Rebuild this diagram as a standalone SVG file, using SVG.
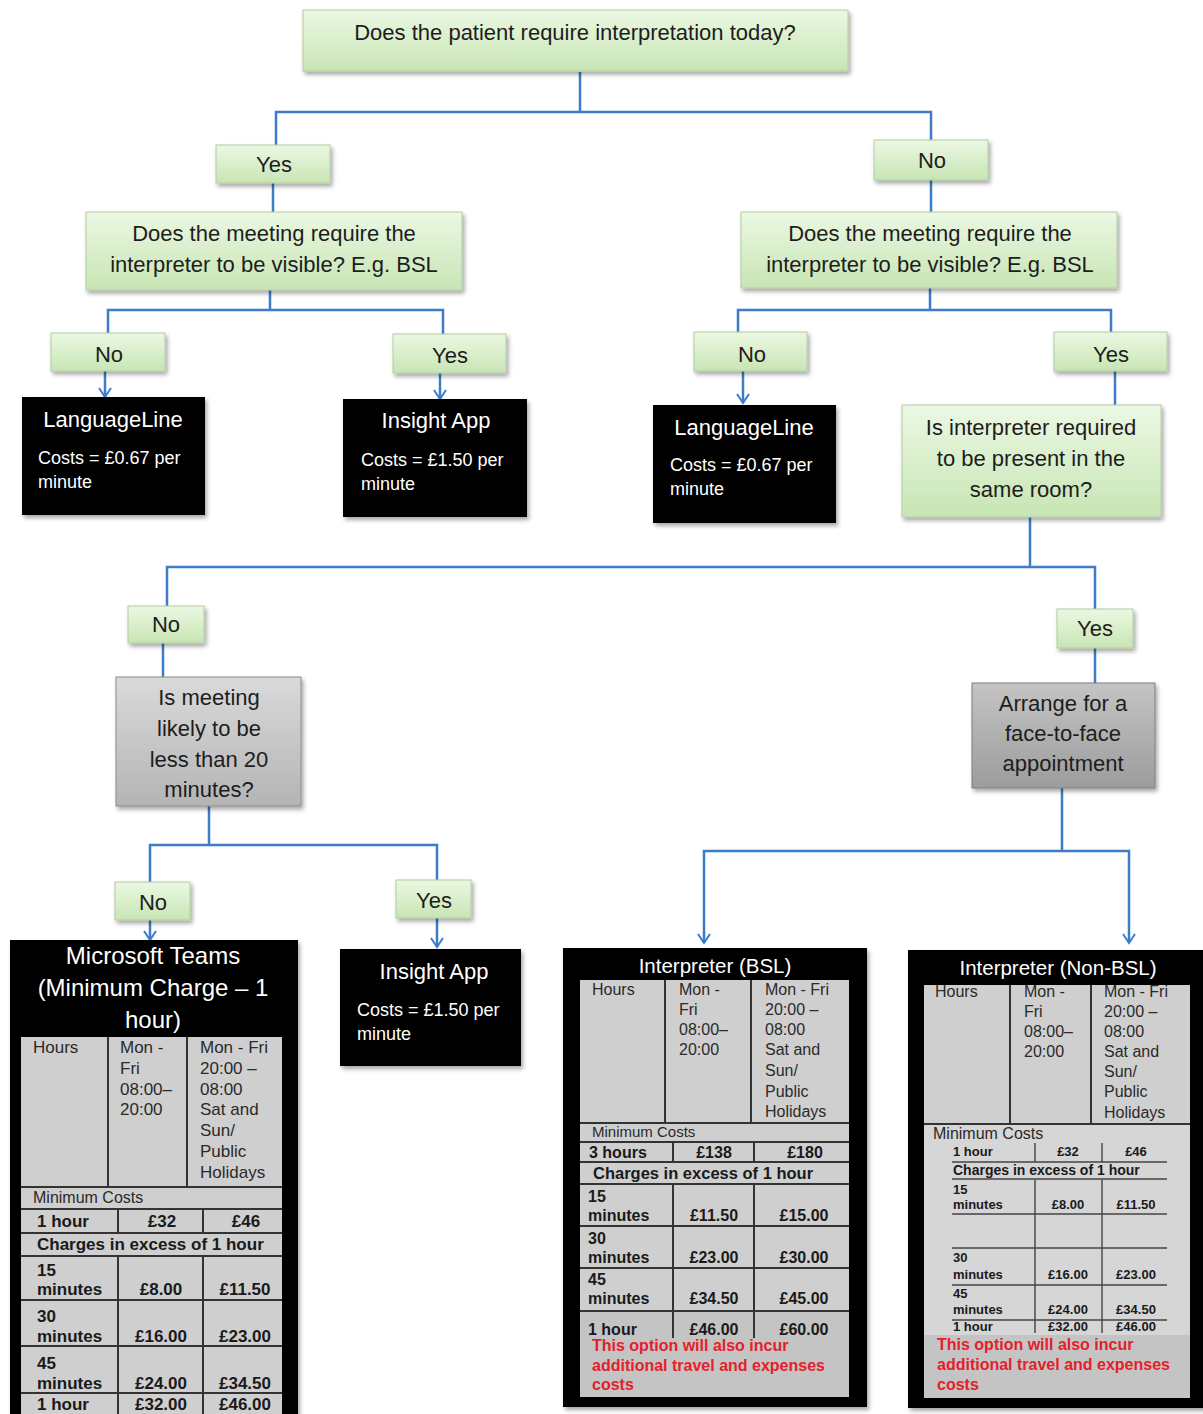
<svg xmlns="http://www.w3.org/2000/svg" width="1203" height="1414" viewBox="0 0 1203 1414">
<defs>
<linearGradient id="gg" x1="0" y1="0" x2="0" y2="1"><stop offset="0" stop-color="#ebf8e3"/><stop offset="1" stop-color="#c8e5b4"/></linearGradient>
<linearGradient id="gy" x1="0" y1="0" x2="0" y2="1"><stop offset="0" stop-color="#dadada"/><stop offset="1" stop-color="#b4b4b4"/></linearGradient>
<linearGradient id="gy2" x1="0" y1="0" x2="0" y2="1"><stop offset="0" stop-color="#c4c4c4"/><stop offset="1" stop-color="#9c9c9c"/></linearGradient>
<filter id="sh" x="-10%" y="-10%" width="125%" height="135%"><feDropShadow dx="2" dy="3" stdDeviation="2" flood-color="#000" flood-opacity="0.35"/></filter>
<marker id="ar" viewBox="0 0 12 14" refX="10" refY="7" markerWidth="12" markerHeight="14" markerUnits="userSpaceOnUse" orient="auto"><path d="M1,1 L10,7 L1,13" fill="none" stroke="#3d7cc9" stroke-width="2"/></marker>
</defs>
<style>
text{font-family:"Liberation Sans",Arial,sans-serif}
.g{fill:url(#gg);stroke:#b2cca2;stroke-width:1;filter:url(#sh)}
.gr{fill:url(#gy);stroke:#8c8c8c;stroke-width:1;filter:url(#sh)}
.gr2{fill:url(#gy2);stroke:#7c7c7c;stroke-width:1;filter:url(#sh)}
.bk{fill:#000;filter:url(#sh)}
.t{font-size:22px;fill:#1d1d1d;text-anchor:middle}
.wt{font-size:22px;fill:#fff;text-anchor:middle}
.ws{font-size:18px;fill:#fff}
.c{fill:none;stroke:#3d7cc9;stroke-width:2.5}
.a{marker-end:url(#ar)}
.cell{fill:#cfcfcf}
.cell2{fill:#c4c4c4}
.ln{stroke:#333;stroke-width:2;fill:none}
.ln2{stroke:#444;stroke-width:1.4;fill:none}
.h17{font-size:17px;fill:#2a2a2a}
.h16{font-size:16px;fill:#2a2a2a}
.b17{font-size:17px;font-weight:bold;fill:#1a1a1a}
.b16{font-size:16px;font-weight:bold;fill:#1a1a1a}
.b13{font-size:13px;font-weight:bold;fill:#1a1a1a}
.m{text-anchor:middle}
.red{font-size:16px;font-weight:bold;fill:#e5202a}
</style>
<rect width="1203" height="1414" fill="#fff"/>

<g id="connectors">
<path class="c" d="M580,72 V112 M276,145 V112 H931 V140"/>
<path class="c" d="M273,183 V212"/>
<path class="c" d="M931,180 V212"/>
<path class="c" d="M270,290 V310 M108,333 V310 H443 V334"/>
<path class="c a" d="M105,371 V397"/>
<path class="c a" d="M440,373 V399"/>
<path class="c" d="M930,288 V310 M738,332 V310 H1111 V332"/>
<path class="c a" d="M743,371 V403"/>
<path class="c" d="M1115,371 V405"/>
<path class="c" d="M1030,517 V567 M167,607 V567 H1095 V610"/>
<path class="c" d="M163,643 V677"/>
<path class="c" d="M209,806 V845 M150,882 V845 H437 V880"/>
<path class="c a" d="M150,920 V940"/>
<path class="c a" d="M437,918 V947"/>
<path class="c" d="M1095,648 V683"/>
<path class="c" d="M1062,788 V851"/>
<path class="c a" d="M1062,851 H704 V943"/>
<path class="c a" d="M1062,851 H1129 V943"/>
</g>

<g id="n-top"><rect class="g" x="303" y="10" width="545" height="61"/><text class="t" x="575" y="40">Does the patient require interpretation today?</text></g>
<g id="n-yes1"><rect class="g" x="216" y="145" width="114" height="38"/><text class="t" x="274" y="172">Yes</text></g>
<g id="n-no1"><rect class="g" x="874" y="140" width="114" height="40"/><text class="t" x="932" y="168">No</text></g>
<g id="n-q-left"><rect class="g" x="86" y="212" width="376" height="78"/><text class="t" x="274" y="241">Does the meeting require the</text><text class="t" x="274" y="272">interpreter to be visible? E.g. BSL</text></g>
<g id="n-q-right"><rect class="g" x="741" y="212" width="376" height="76"/><text class="t" x="930" y="241">Does the meeting require the</text><text class="t" x="930" y="272">interpreter to be visible? E.g. BSL</text></g>
<g id="n-no2"><rect class="g" x="51" y="333" width="114" height="38"/><text class="t" x="109" y="362">No</text></g>
<g id="n-yes2"><rect class="g" x="393" y="334" width="113" height="39"/><text class="t" x="450" y="363">Yes</text></g>
<g id="n-ll1"><rect class="bk" x="22" y="397" width="183" height="118"/><text class="wt" x="113" y="427">LanguageLine</text><text class="ws" x="38" y="464">Costs = £0.67 per</text><text class="ws" x="38" y="488">minute</text></g>
<g id="n-ia1"><rect class="bk" x="343" y="399" width="184" height="118"/><text class="wt" x="436" y="428">Insight App</text><text class="ws" x="361" y="466">Costs = £1.50 per</text><text class="ws" x="361" y="490">minute</text></g>
<g id="n-no3"><rect class="g" x="694" y="332" width="113" height="39"/><text class="t" x="752" y="362">No</text></g>
<g id="n-yes3"><rect class="g" x="1054" y="332" width="113" height="39"/><text class="t" x="1111" y="362">Yes</text></g>
<g id="n-ll2"><rect class="bk" x="653" y="405" width="183" height="118"/><text class="wt" x="744" y="435">LanguageLine</text><text class="ws" x="670" y="471">Costs = £0.67 per</text><text class="ws" x="670" y="495">minute</text></g>
<g id="n-room"><rect class="g" x="902" y="405" width="259" height="112"/><text class="t" x="1031" y="435">Is interpreter required</text><text class="t" x="1031" y="466">to be present in the</text><text class="t" x="1031" y="497">same room?</text></g>
<g id="n-no4"><rect class="g" x="128" y="606" width="76" height="37"/><text class="t" x="166" y="632">No</text></g>
<g id="n-yes4"><rect class="g" x="1057" y="609" width="76" height="39"/><text class="t" x="1095" y="636">Yes</text></g>
<g id="n-20min"><rect class="gr" x="116" y="677" width="185" height="129"/><text class="t" x="209" y="705">Is meeting</text><text class="t" x="209" y="736">likely to be</text><text class="t" x="209" y="767">less than 20</text><text class="t" x="209" y="797">minutes?</text></g>
<g id="n-f2f"><rect class="gr2" x="972" y="683" width="183" height="105"/><text class="t" x="1063" y="711">Arrange for a</text><text class="t" x="1063" y="741">face-to-face</text><text class="t" x="1063" y="771">appointment</text></g>
<g id="n-no5"><rect class="g" x="115" y="882" width="75" height="38"/><text class="t" x="153" y="910">No</text></g>
<g id="n-yes5"><rect class="g" x="396" y="880" width="75" height="38"/><text class="t" x="434" y="908">Yes</text></g>
<g id="n-ia2"><rect class="bk" x="340" y="949" width="181" height="117"/><text class="wt" x="434" y="979">Insight App</text><text class="ws" x="357" y="1016">Costs = £1.50 per</text><text class="ws" x="357" y="1040">minute</text></g>

<g id="n-teams">
<rect class="bk" x="10" y="940" width="288" height="480"/>
<text class="wt" style="font-size:24px" x="153" y="964">Microsoft Teams</text>
<text class="wt" style="font-size:24px" x="153" y="996">(Minimum Charge – 1</text>
<text class="wt" style="font-size:24px" x="153" y="1028">hour)</text>
<rect class="cell" x="21" y="1037" width="261" height="380"/>
<path class="ln" d="M108,1037 V1187 M187,1037 V1187 M21,1187 H282 M21,1209 H282 M118,1209 V1233 M203,1209 V1233 M21,1233 H282 M21,1256 H282 M118,1256 V1414 M203,1256 V1414 M21,1300 H282 M21,1346 H282 M21,1393 H282"/>
<text class="h17" x="33" y="1053">Hours</text>
<text class="h17" x="120" y="1053">Mon -</text><text class="h17" x="120" y="1074">Fri</text><text class="h17" x="120" y="1095">08:00–</text><text class="h17" x="120" y="1115">20:00</text>
<text class="h17" x="200" y="1053">Mon - Fri</text><text class="h17" x="200" y="1074">20:00 –</text><text class="h17" x="200" y="1095">08:00</text><text class="h17" x="200" y="1115">Sat and</text><text class="h17" x="200" y="1136">Sun/</text><text class="h17" x="200" y="1157">Public</text><text class="h17" x="200" y="1178">Holidays</text>
<text class="h16" x="33" y="1203">Minimum Costs</text>
<text class="b17" x="37" y="1227">1 hour</text><text class="b17 m" x="162" y="1227">£32</text><text class="b17 m" x="246" y="1227">£46</text>
<text class="b17" x="37" y="1250">Charges in excess of 1 hour</text>
<text class="b17" x="37" y="1276">15</text><text class="b17" x="37" y="1295">minutes</text><text class="b17 m" x="161" y="1295">£8.00</text><text class="b17 m" x="245" y="1295">£11.50</text>
<text class="b17" x="37" y="1322">30</text><text class="b17" x="37" y="1342">minutes</text><text class="b17 m" x="161" y="1342">£16.00</text><text class="b17 m" x="245" y="1342">£23.00</text>
<text class="b17" x="37" y="1369">45</text><text class="b17" x="37" y="1389">minutes</text><text class="b17 m" x="161" y="1389">£24.00</text><text class="b17 m" x="245" y="1389">£34.50</text>
<text class="b17" x="37" y="1410">1 hour</text><text class="b17 m" x="161" y="1410">£32.00</text><text class="b17 m" x="245" y="1410">£46.00</text>
</g>

<g id="n-bsl">
<rect class="bk" x="563" y="948" width="304" height="459"/>
<text class="wt" style="font-size:20.5px" x="715" y="973">Interpreter (BSL)</text>
<rect class="cell" x="580" y="980" width="269" height="360"/>
<rect class="cell2" x="580" y="1311" width="269" height="86"/>
<path class="ln" d="M665,980 V1123 M751,980 V1123 M580,1123 H849 M580,1142 H849 M673,1142 V1162 M754,1142 V1162 M580,1162 H849 M580,1184 H849 M673,1184 V1338 M754,1184 V1338 M580,1226 H849 M580,1268 H849 M580,1311 H849"/>
<text class="h16" x="592" y="995">Hours</text>
<text class="h16" x="679" y="995">Mon -</text><text class="h16" x="679" y="1015">Fri</text><text class="h16" x="679" y="1035">08:00–</text><text class="h16" x="679" y="1055">20:00</text>
<text class="h16" x="765" y="995">Mon - Fri</text><text class="h16" x="765" y="1015">20:00 –</text><text class="h16" x="765" y="1035">08:00</text><text class="h16" x="765" y="1055">Sat and</text><text class="h16" x="765" y="1076">Sun/</text><text class="h16" x="765" y="1097">Public</text><text class="h16" x="765" y="1117">Holidays</text>
<text class="h16" style="font-size:15px" x="592" y="1137">Minimum Costs</text>
<text class="b16" x="589" y="1158">3 hours</text><text class="b16 m" x="714" y="1158">£138</text><text class="b16 m" x="805" y="1158">£180</text>
<text class="b16" style="font-size:16.5px" x="593" y="1179">Charges in excess of 1 hour</text>
<text class="b16" x="588" y="1202">15</text><text class="b16" x="588" y="1221">minutes</text><text class="b16 m" x="714" y="1221">£11.50</text><text class="b16 m" x="804" y="1221">£15.00</text>
<text class="b16" x="588" y="1244">30</text><text class="b16" x="588" y="1263">minutes</text><text class="b16 m" x="714" y="1263">£23.00</text><text class="b16 m" x="804" y="1263">£30.00</text>
<text class="b16" x="588" y="1285">45</text><text class="b16" x="588" y="1304">minutes</text><text class="b16 m" x="714" y="1304">£34.50</text><text class="b16 m" x="804" y="1304">£45.00</text>
<text class="b16" x="588" y="1335">1 hour</text><text class="b16 m" x="714" y="1335">£46.00</text><text class="b16 m" x="804" y="1335">£60.00</text>
<text class="red" x="592" y="1351">This option will also incur</text>
<text class="red" x="592" y="1371">additional travel and expenses</text>
<text class="red" x="592" y="1390">costs</text>
</g>

<g id="n-nonbsl">
<rect class="bk" x="908" y="950" width="300" height="458"/>
<text class="wt" style="font-size:20.5px" x="1058" y="975">Interpreter (Non-BSL)</text>
<rect class="cell" x="924" y="985" width="266" height="413"/>
<rect fill="#d6d6d6" x="924" y="1125" width="266" height="210"/>
<rect class="cell2" x="924" y="1335" width="266" height="63"/>
<path class="ln" d="M1010,985 V1124 M1091,985 V1124 M924,1124 H1190"/>
<path class="ln2" d="M952,1162 H1167 M952,1179 H1167 M952,1214 H1167 M952,1248 H1167 M952,1285 H1167 M952,1320 H1167 M1035,1143 V1162 M1102,1143 V1162 M1035,1180 V1333 M1102,1180 V1333"/>
<text class="h16" x="935" y="997">Hours</text>
<text class="h16" x="1024" y="997">Mon -</text><text class="h16" x="1024" y="1017">Fri</text><text class="h16" x="1024" y="1037">08:00–</text><text class="h16" x="1024" y="1057">20:00</text>
<text class="h16" x="1104" y="997">Mon - Fri</text><text class="h16" x="1104" y="1017">20:00 –</text><text class="h16" x="1104" y="1037">08:00</text><text class="h16" x="1104" y="1057">Sat and</text><text class="h16" x="1104" y="1077">Sun/</text><text class="h16" x="1104" y="1097">Public</text><text class="h16" x="1104" y="1118">Holidays</text>
<text class="h16" x="933" y="1139">Minimum Costs</text>
<text class="b13" x="953" y="1156">1 hour</text><text class="b13 m" x="1068" y="1156">£32</text><text class="b13 m" x="1136" y="1156">£46</text>
<text class="b13" style="font-size:14px" x="953" y="1175">Charges in excess of 1 hour</text>
<text class="b13" x="953" y="1194">15</text><text class="b13" x="953" y="1209">minutes</text><text class="b13 m" x="1068" y="1209">£8.00</text><text class="b13 m" x="1136" y="1209">£11.50</text>
<text class="b13" x="953" y="1262">30</text><text class="b13" x="953" y="1279">minutes</text><text class="b13 m" x="1068" y="1279">£16.00</text><text class="b13 m" x="1136" y="1279">£23.00</text>
<text class="b13" x="953" y="1298">45</text><text class="b13" x="953" y="1314">minutes</text><text class="b13 m" x="1068" y="1314">£24.00</text><text class="b13 m" x="1136" y="1314">£34.50</text>
<text class="b13" x="953" y="1331">1 hour</text><text class="b13 m" x="1068" y="1331">£32.00</text><text class="b13 m" x="1136" y="1331">£46.00</text>
<text class="red" x="937" y="1350">This option will also incur</text>
<text class="red" x="937" y="1370">additional travel and expenses</text>
<text class="red" x="937" y="1390">costs</text>
</g>
</svg>
